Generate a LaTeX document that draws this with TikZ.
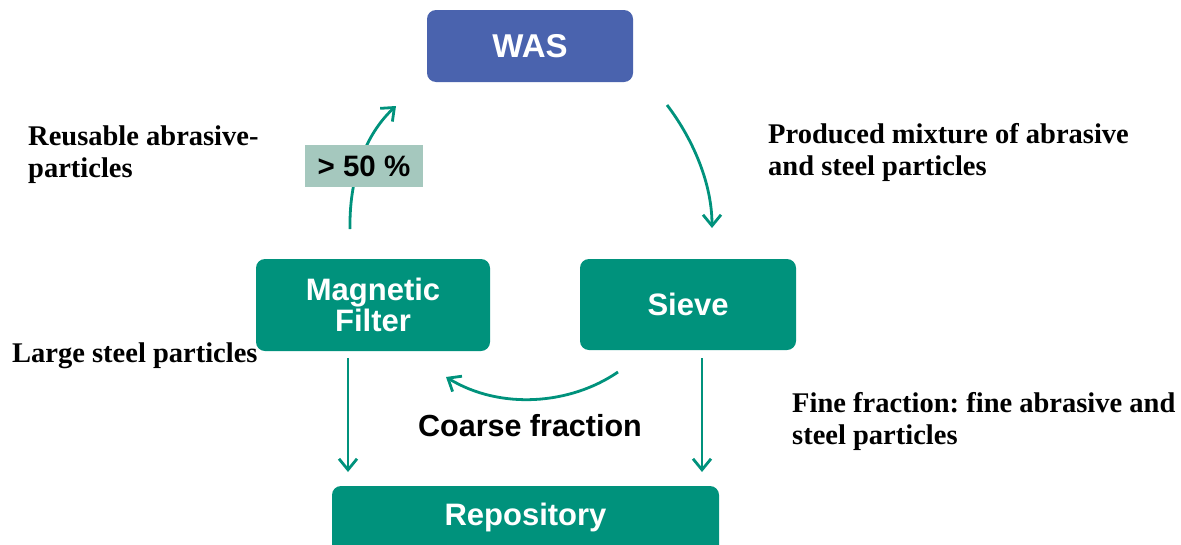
\documentclass[tikz,border=0pt]{standalone}
\usepackage{fontspec}
\setmainfont{Liberation Serif}
\setsansfont{Liberation Sans}
\usetikzlibrary{arrows.meta}
\frenchspacing
\definecolor{wasblue}{RGB}{74,99,174}
\definecolor{procteal}{RGB}{0,146,124}
\definecolor{pctgrey}{RGB}{165,200,190}
\tikzset{
  boxfont/.style={font=\sffamily\bfseries\fontsize{31}{31}\selectfont},
  procbox/.style={fill=procteal, rounded corners=9pt, text=white, boxfont, align=center},
  flow/.style={draw=procteal, line width=2.8pt, -{Straight Barb[length=11pt,width=18pt,line width=2.8pt]}},
  note/.style={font=\rmfamily\bfseries\fontsize{28.5}{32}\selectfont, align=left, anchor=north west, inner sep=0pt},
}
\begin{document}
\begin{tikzpicture}[x=1pt,y=-1pt]
\useasboundingbox (0,0) rectangle (1181,544);
\begin{scope}
\clip (0,0) rectangle (1181,544);
% process boxes
\node[procbox, fill=wasblue, minimum width=206pt, minimum height=72pt, font=\sffamily\bfseries\fontsize{33}{33}\selectfont] (was) at (530,46) {WAS};
\node[procbox, minimum width=234pt, minimum height=92pt] (mag) at (373,305) {Magnetic\\Filter};
\node[procbox, minimum width=216pt, minimum height=91pt] (sieve) at (688,304.5) {Sieve};
\node[procbox, minimum width=387pt, minimum height=90pt] (repo) at (525.5,531) {};
\node[boxfont, text=white] (repotext) at (525.5,517) {Repository};
\end{scope}

% connector end points
\coordinate (magup) at (350,229);
\coordinate (wasin) at (396,106);
\coordinate (wasout) at (667,105);
\coordinate (sievein) at (712,228);
\coordinate (magdown) at (348,358);
\coordinate (repoL) at (348,472);
\coordinate (sievedown) at (702,358);
\coordinate (repoR) at (702,472);
\coordinate (coarseS) at (618,372);
\coordinate (coarseE) at (446,377);

% flows
\draw[flow] (magup) .. controls (349,170) and (370,130) .. (wasin);
\draw[flow] (wasout) .. controls (690,135) and (712,180) .. (sievein);
\draw[flow] (magdown) -- (repoL);
\draw[flow] (sievedown) -- (repoR);
\draw[flow] (coarseS) .. controls (570,405) and (500,410) .. (coarseE);

% share label on the return flow
\node[fill=pctgrey, minimum width=118pt, minimum height=42pt, inner sep=0pt, font=\sffamily\bfseries\fontsize{29.5}{30}\selectfont] (pct) at (364,166) {> 50 \%};

\node[font=\sffamily\bfseries\fontsize{30.5}{31}\selectfont] (coarse) at (530,426) {Coarse fraction};

% descriptions
\node[note] (reuse) at (28,126) {Reusable abrasive-\\particles};
\node[note] (large) at (12,343) {Large steel particles};
\node[note] (mixture) at (768,123) {Produced mixture of abrasive\\and steel particles};
\node[note] (fine) at (792,392) {Fine fraction: fine abrasive and\\steel particles};
\end{tikzpicture}
\end{document}
